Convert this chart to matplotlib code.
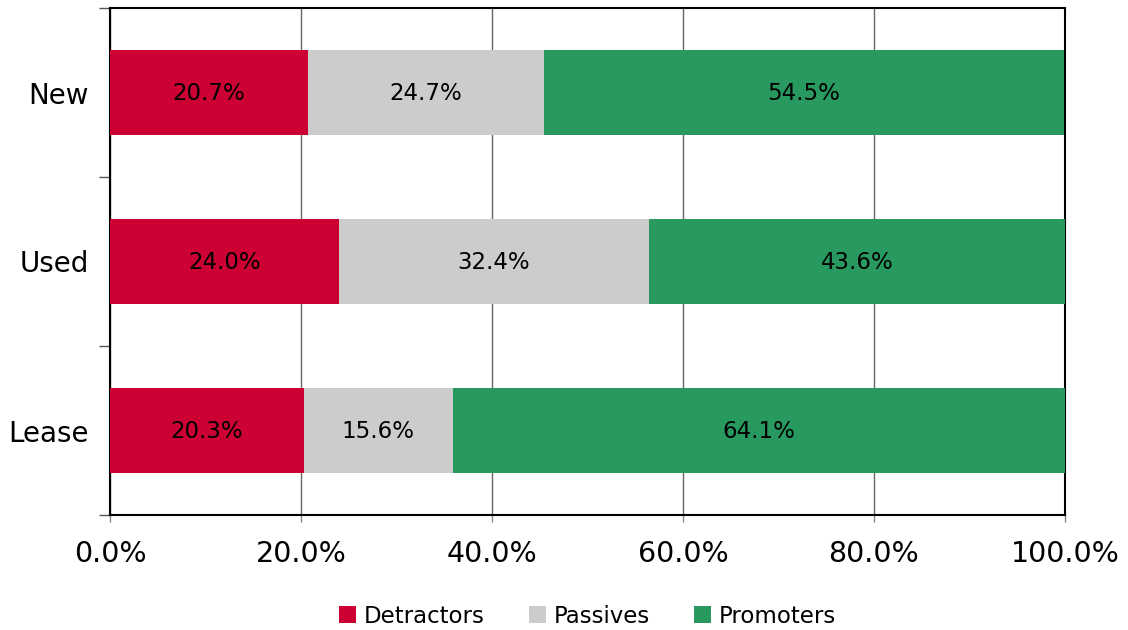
import matplotlib
matplotlib.use("Agg")
import matplotlib.pyplot as plt
import numpy as np

categories = ["Lease", "Used", "New"]
detractors = [20.3, 24.0, 20.7]
passives = [15.6, 32.4, 24.7]
promoters = [64.1, 43.6, 54.5]
series_names = ["Detractors", "Passives", "Promoters"]
colors = ["#CC0033", "#CCCCCC", "#289A5F"]
xticks = [0, 20, 40, 60, 80, 100]

plt.rcParams['font.family'] = ['DejaVu Sans']
fig = plt.figure(figsize=(11.28, 6.3), dpi=100)
ax = fig.add_axes([110/1128, 1-515/630, (1065-110)/1128, (515-8)/630])

y = np.arange(len(categories))
left = np.zeros(len(categories))
for vals, name, c in zip([detractors, passives, promoters], series_names, colors):
    vals = np.array(vals)
    ax.barh(y, vals, left=left, height=0.5, color=c, label=name, zorder=3)
    for yi, l, v in zip(y, left, vals):
        ax.text(l + v/2, yi - 0.008, f"{v:.1f}%", ha='center', va='center', fontsize=16.5, color='black', zorder=4)
    left += vals

ax.set_xlim(0, 100)
ax.set_ylim(-0.5, 2.5)
ax.set_xticks(xticks)
ax.set_xticklabels([f"{t:.1f}%" for t in xticks], fontsize=20.5)
ax.set_yticks(y)
ax.set_yticklabels(categories, fontsize=20)
ax.set_yticks([-0.5, 0.5, 1.5, 2.5], minor=True)
ax.tick_params(axis='y', which='major', length=0, pad=15)
ax.tick_params(axis='y', which='minor', length=8, width=1, color='#555555', direction='out')
ax.tick_params(axis='x', which='major', length=5, width=1, color='#888888', direction='out', pad=13)
ax.grid(axis='x', color='#666666', linewidth=1, zorder=0)
for s in ax.spines.values():
    s.set_color('black')
    s.set_linewidth(1.5)

ax.legend(loc='upper center', bbox_to_anchor=(0.5*(1065+110)/1128, 0.055), bbox_transform=fig.transFigure,
          ncol=3, frameon=False, fontsize=16.5, handlelength=0.75, handleheight=0.75,
          handletextpad=0.35, columnspacing=1.9, borderaxespad=0)

fig.savefig("out.png", dpi=100)
